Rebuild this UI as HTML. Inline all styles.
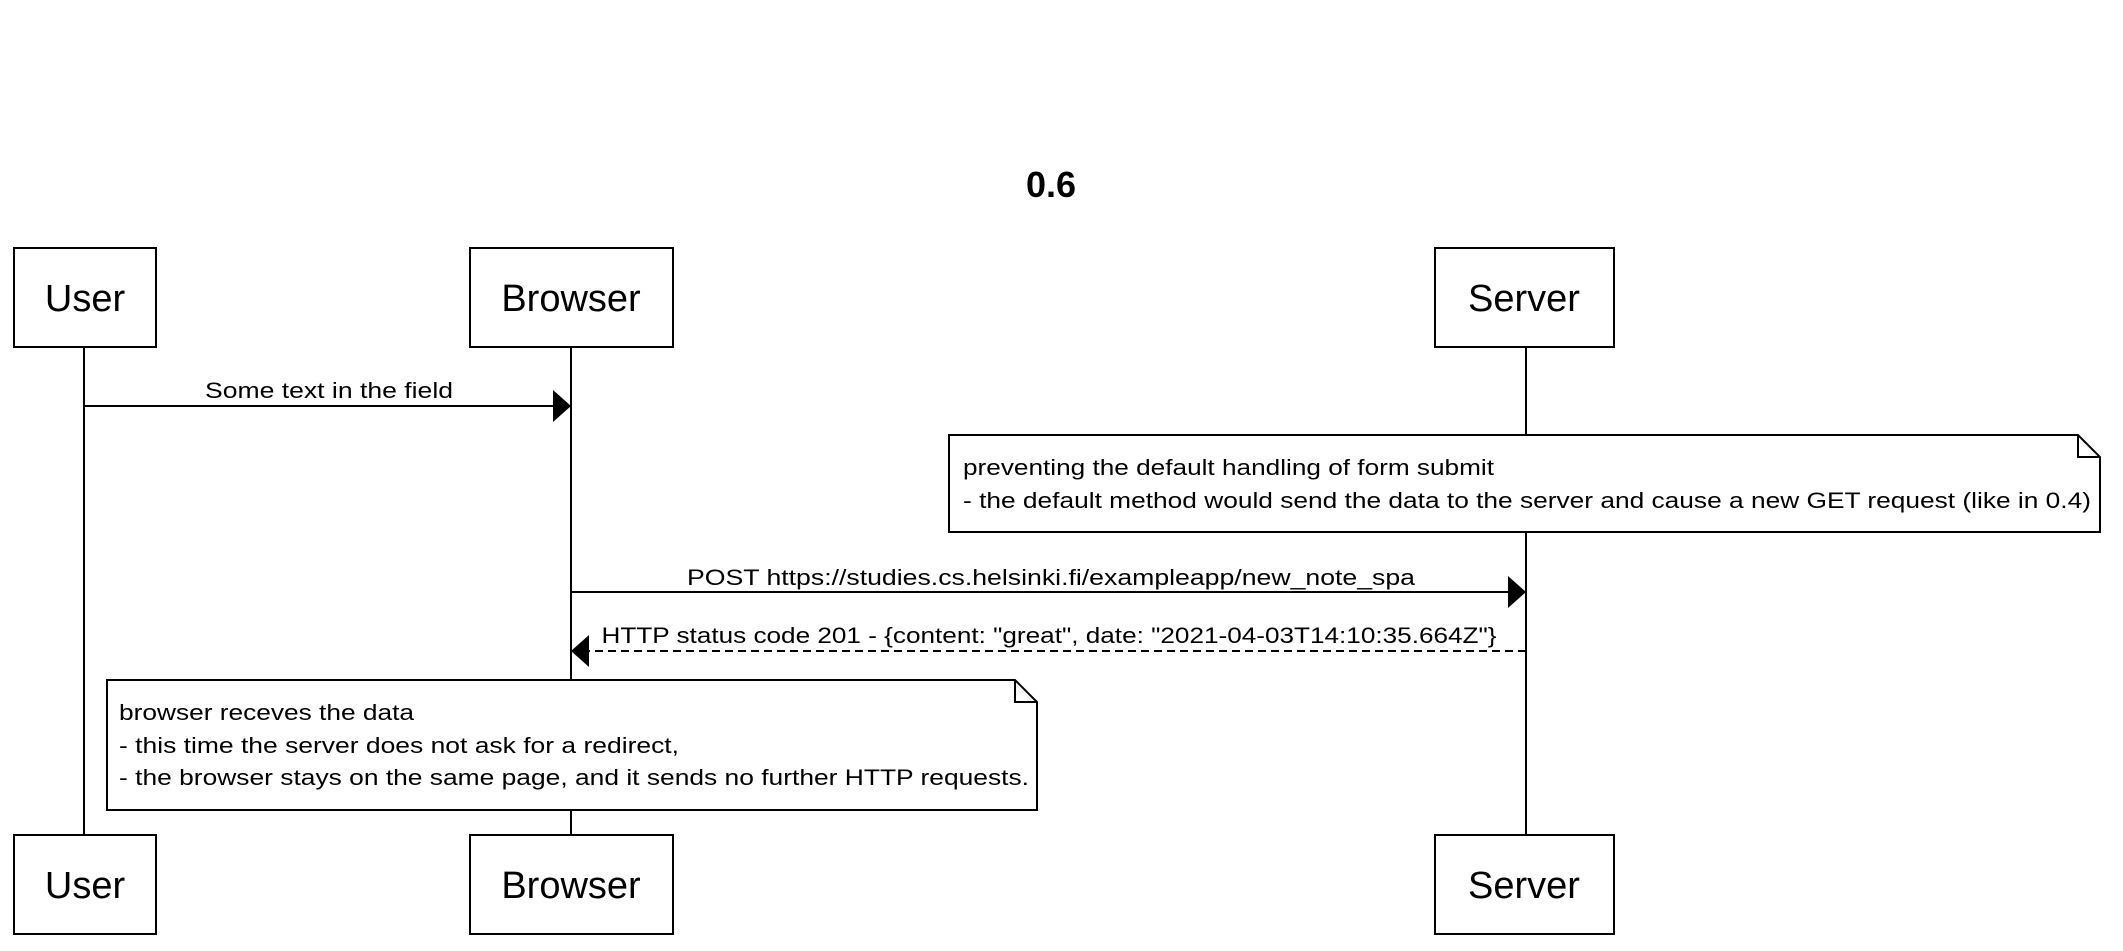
<!DOCTYPE html>
<html><head><meta charset="utf-8"><style>
html,body{margin:0;padding:0;background:#fff;}
svg{display:block;}
text{font-family:"Liberation Sans",sans-serif;fill:#000;}
</style></head><body>
<svg width="2123" height="951" viewBox="0 0 2123 951" xmlns="http://www.w3.org/2000/svg">
<rect width="2123" height="951" fill="#fff"/>
<text x="1051" y="197" font-size="36" font-weight="bold" text-anchor="middle">0.6</text>
<g stroke="#000" stroke-width="2" fill="none">
<line x1="84" y1="347" x2="84" y2="835"/>
<line x1="571" y1="347" x2="571" y2="835"/>
<line x1="1526" y1="347" x2="1526" y2="835"/>
</g>
<g stroke="#000" stroke-width="2" fill="#fff">
<rect x="14" y="248" width="142" height="99"/>
<rect x="470" y="248" width="203" height="99"/>
<rect x="1435" y="248" width="179" height="99"/>
<rect x="14" y="835" width="142" height="99"/>
<rect x="470" y="835" width="203" height="99"/>
<rect x="1435" y="835" width="179" height="99"/>
</g>
<g font-size="38" text-anchor="middle">
<text x="85" y="311">User</text>
<text x="571" y="311">Browser</text>
<text x="1524" y="311">Server</text>
<text x="85" y="898">User</text>
<text x="571" y="898">Browser</text>
<text x="1524" y="898">Server</text>
</g>
<!-- arrow 1 -->
<line x1="84" y1="406" x2="556" y2="406" stroke="#000" stroke-width="2"/>
<polygon points="553,390 571,406 553,422" fill="#000"/>
<text x="329" y="398" font-size="22" text-anchor="middle" textLength="248" lengthAdjust="spacingAndGlyphs">Some text in the field</text>
<!-- note 1 -->
<path d="M949,435 H2078 L2100,457 V532 H949 Z" fill="#fff" stroke="#000" stroke-width="2"/>
<path d="M2078,435 V457 H2100" fill="none" stroke="#000" stroke-width="2"/>
<text x="963" y="475" font-size="22" textLength="531" lengthAdjust="spacingAndGlyphs">preventing the default handling of form submit</text>
<text x="963" y="508" font-size="22" textLength="1128" lengthAdjust="spacingAndGlyphs">- the default method would send the data to the server and cause a new GET request (like in 0.4)</text>
<!-- arrow 2 -->
<line x1="571" y1="592" x2="1510" y2="592" stroke="#000" stroke-width="2"/>
<polygon points="1508,576 1526,592 1508,608" fill="#000"/>
<text x="1051" y="585" font-size="22" text-anchor="middle" textLength="728" lengthAdjust="spacingAndGlyphs">POST https://studies.cs.helsinki.fi/exampleapp/new_note_spa</text>
<!-- arrow 3 -->
<line x1="1526" y1="651" x2="587" y2="651" stroke="#000" stroke-width="2" stroke-dasharray="8,5"/>
<polygon points="589,635 571,651 589,667" fill="#000"/>
<text x="1049" y="643" font-size="22" text-anchor="middle" textLength="895" lengthAdjust="spacingAndGlyphs">HTTP status code 201 - {content: "great", date: "2021-04-03T14:10:35.664Z"}</text>
<!-- note 2 -->
<path d="M107,680 H1015 L1037,702 V810 H107 Z" fill="#fff" stroke="#000" stroke-width="2"/>
<path d="M1015,680 V702 H1037" fill="none" stroke="#000" stroke-width="2"/>
<text x="119" y="720" font-size="22" textLength="295" lengthAdjust="spacingAndGlyphs">browser receves the data</text>
<text x="119" y="753" font-size="22" textLength="560" lengthAdjust="spacingAndGlyphs">- this time the server does not ask for a redirect,</text>
<text x="119" y="785" font-size="22" textLength="910" lengthAdjust="spacingAndGlyphs">- the browser stays on the same page, and it sends no further HTTP requests.</text>
</svg>
</body></html>
